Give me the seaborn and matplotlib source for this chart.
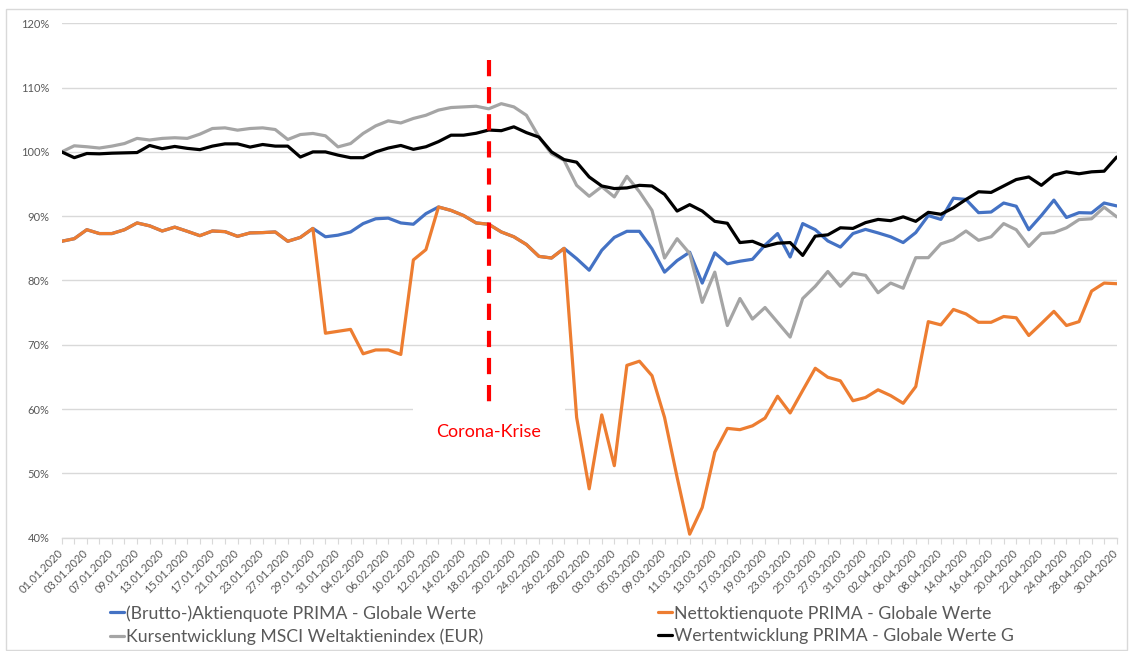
import numpy as np
import pandas as pd
import matplotlib.pyplot as plt
import seaborn as sns
from matplotlib.patches import Rectangle

sns.set_theme(style="white")
plt.rcParams['font.family'] = ['Lato', 'DejaVu Sans']

# trading days Jan-Apr 2020 (Good Friday and Easter Monday are missing in the chart)
days = pd.bdate_range("2020-01-01", "2020-04-30")
days = days[~days.isin(pd.to_datetime(["2020-04-10", "2020-04-13"]))]
day_labels = days.strftime("%d.%m.%Y").tolist()

tick_labels = [
    "01.01.2020", "03.01.2020", "07.01.2020", "09.01.2020", "13.01.2020", "15.01.2020",
    "17.01.2020", "21.01.2020", "23.01.2020", "27.01.2020", "29.01.2020", "31.01.2020",
    "04.02.2020", "06.02.2020", "10.02.2020", "12.02.2020", "14.02.2020", "18.02.2020",
    "20.02.2020", "24.02.2020", "26.02.2020", "28.02.2020", "03.03.2020", "05.03.2020",
    "09.03.2020", "11.03.2020", "13.03.2020", "17.03.2020", "19.03.2020", "23.03.2020",
    "25.03.2020", "27.03.2020", "31.03.2020", "02.04.2020", "06.04.2020", "08.04.2020",
    "14.04.2020", "16.04.2020", "20.04.2020", "22.04.2020", "24.04.2020", "28.04.2020",
    "30.04.2020",
]

# values in percent
brutto = [
    86.1, 86.5, 87.9, 87.3, 87.3, 87.9, 88.95, 88.5, 87.7, 88.3, 87.65, 86.97, 87.7, 87.6,
    86.87, 87.4, 87.45, 87.55, 86.1, 86.7, 88.1,
    86.8, 87.05, 87.55, 88.85, 89.6, 89.7, 88.95, 88.75, 90.4,
    91.43, 90.9, 90.1, 88.95, 88.75, 87.55, 86.8, 85.6, 83.75, 83.5, 85.0,
    83.4, 81.6, 84.7, 86.7, 87.65, 87.65, 84.95, 81.3, 83.1, 84.4, 79.6, 84.3, 82.6, 83.0,
    83.3, 85.5, 87.3,
    83.65, 88.85, 87.9, 86.15, 85.2, 87.3, 87.95, 87.4, 86.8, 85.9, 87.45, 90.1, 89.5,
    92.8, 92.6, 90.55, 90.65, 92.05, 91.55, 87.9, 90.1, 92.5, 89.8, 90.55, 90.5, 92.05, 91.6,
]
netto = [
    86.1, 86.5, 87.9, 87.3, 87.3, 87.9, 88.95, 88.5, 87.7, 88.3, 87.65, 86.97, 87.7, 87.6,
    86.87, 87.4, 87.45, 87.55, 86.1, 86.7, 88.1,
    71.8, 72.1, 72.4, 68.6, 69.2, 69.2, 68.5, 83.2, 84.8,
    91.43, 90.9, 90.1, 88.95, 88.75, 87.55, 86.8, 85.6, 83.75, 83.5, 85.0,
    58.7, 47.6, 59.1, 51.2, 66.8, 67.45, 65.2, 58.7, 49.4, 40.55, 44.7, 53.3, 57.0, 56.8,
    57.4, 58.6, 62.0,
    59.4, 62.9, 66.35, 64.95, 64.4, 61.3, 61.8, 63.0, 62.1, 60.9, 63.5, 73.6, 73.1, 75.5,
    74.8, 73.5, 73.5, 74.4, 74.2, 71.45, 73.3, 75.2, 73.0, 73.6, 78.35, 79.6, 79.5,
]
msci = [
    100.0, 100.95, 100.8, 100.6, 100.9, 101.3, 102.1, 101.85, 102.1, 102.2, 102.1, 102.76,
    103.64, 103.74, 103.38, 103.64, 103.74, 103.48, 101.93, 102.7, 102.87, 102.5, 100.78,
    101.3, 102.87, 104.05, 104.83,
    104.5, 105.2, 105.7, 106.5, 106.9, 107.0, 107.1, 106.7, 107.5, 107.0, 105.7, 102.34,
    99.7, 98.7,
    94.8, 93.1, 94.6, 93.0, 96.2, 93.8, 90.9, 83.5, 86.5, 84.2, 76.6, 81.3, 73.0, 77.2,
    74.0, 75.8, 73.5,
    71.2, 77.2, 79.1, 81.4, 79.1, 81.15, 80.8, 78.1, 79.6, 78.8, 83.55, 83.55, 85.7, 86.35,
    87.7, 86.25, 86.8, 88.85, 87.9, 85.3, 87.3, 87.45, 88.2, 89.47, 89.6, 91.4, 89.9,
]
prima = [
    100.0, 99.1, 99.75, 99.7, 99.8, 99.85, 99.9, 101.0, 100.5, 100.85, 100.55, 100.35,
    100.9, 101.25, 101.25, 100.75, 101.15, 100.9, 100.9, 99.2, 100.0, 100.0, 99.5, 99.1,
    99.1, 100.0, 100.6,
    101.0, 100.4, 100.8, 101.6, 102.6, 102.6, 102.9, 103.4, 103.3, 103.9, 103.0, 102.3,
    100.0, 98.8, 98.4, 96.1, 94.7, 94.3, 94.4, 94.8, 94.7, 93.4, 90.8, 91.8, 90.8, 89.2,
    88.9, 85.9, 86.1, 85.3, 85.8,
    85.9, 83.9, 86.9, 87.1, 88.2, 88.1, 89.0, 89.5, 89.3, 89.9, 89.2, 90.6, 90.3, 91.3,
    92.6, 93.8, 93.7, 94.7, 95.7, 96.1, 94.8, 96.4, 96.9, 96.6, 96.9, 97.0, 99.2,
]

series_names = [
    "(Brutto-)Aktienquote PRIMA - Globale Werte",
    "Nettoktienquote PRIMA - Globale Werte",
    "Kursentwicklung MSCI Weltaktienindex (EUR)",
    "Wertentwicklung PRIMA - Globale Werte G",
]
series_colors = ["#4472C4", "#ED7D31", "#A5A5A5", "#000000"]

crisis_day = "18.02.2020"
crisis_label = "Corona-Krise"

df = pd.DataFrame({"pos": np.arange(len(day_labels)), "day": day_labels})
for name, vals in zip(series_names, [brutto, netto, msci, prima]):
    df[name] = vals

fig = plt.figure(figsize=(11.29, 6.51), dpi=100)
ax = fig.add_axes([0.05465, 0.17404, 0.93445, 0.79017])

# light chart border like the Excel chart area
fig.patches.append(Rectangle((6 / 1129, 1 / 651), 1121 / 1129, 641 / 651,
                             transform=fig.transFigure, fill=False,
                             edgecolor="#d9d9d9", linewidth=1))

for name, color in zip(series_names, series_colors):
    sns.lineplot(data=df, x="pos", y=name, color=color, linewidth=2.3,
                 label=name, ax=ax, zorder=3)

# red dashed marker for the start of the crisis
cx = day_labels.index(crisis_day)
ax.plot([cx, cx], [114.3, 60.5], color="#ff0000", linewidth=3,
        linestyle=(0, (3.9, 2.6)), zorder=4)
ax.text(cx, 56.5, crisis_label, color="#ff0000", fontsize=13, ha="center",
        va="center", zorder=2,
        bbox=dict(boxstyle="square,pad=1.3", facecolor="white", edgecolor="none"))

ax.set_xlim(0, len(day_labels) - 1)
ax.set_ylim(40, 120)
ax.set_yticks(range(40, 121, 10))
ax.set_yticklabels([f"{v}%" for v in range(40, 121, 10)])
ax.set_xticks(range(0, len(day_labels), 2))
ax.set_xticklabels(tick_labels, rotation=45, ha="right", va="center",
                   rotation_mode="anchor")
ax.set_xticks(range(len(day_labels)), minor=True)
ax.set_xlabel("")
ax.set_ylabel("")

ax.yaxis.grid(True, color="#d9d9d9", linewidth=1)
ax.set_axisbelow(True)
for s in ["top", "right", "left"]:
    ax.spines[s].set_visible(False)
ax.spines["bottom"].set_color("#d9d9d9")
ax.spines["bottom"].set_linewidth(1)

ax.tick_params(axis="y", length=0, pad=9, labelsize=8, labelcolor="#595959")
ax.tick_params(axis="x", which="both", direction="out", length=4, width=0.8,
               color="#d9d9d9", bottom=True)
ax.tick_params(axis="x", which="major", pad=6, labelsize=8, labelcolor="#595959")

# legend below the chart, two columns (row 1: blue | orange, row 2: grey | black)
handles, labels = ax.get_legend_handles_labels()
ax.get_legend().remove()
order = [0, 2, 1, 3]
leg = fig.legend([handles[i] for i in order], [labels[i] for i in order],
                 loc="upper left", bbox_to_anchor=(110 / 1129, 1 - 605 / 651),
                 ncol=2, frameon=False, fontsize=12.7, handlelength=0.8,
                 handletextpad=0.12, columnspacing=9.9, labelspacing=0.38,
                 borderpad=0, borderaxespad=0)
for t in leg.get_texts():
    t.set_color("#595959")

fig.savefig("out.png", dpi=100)
